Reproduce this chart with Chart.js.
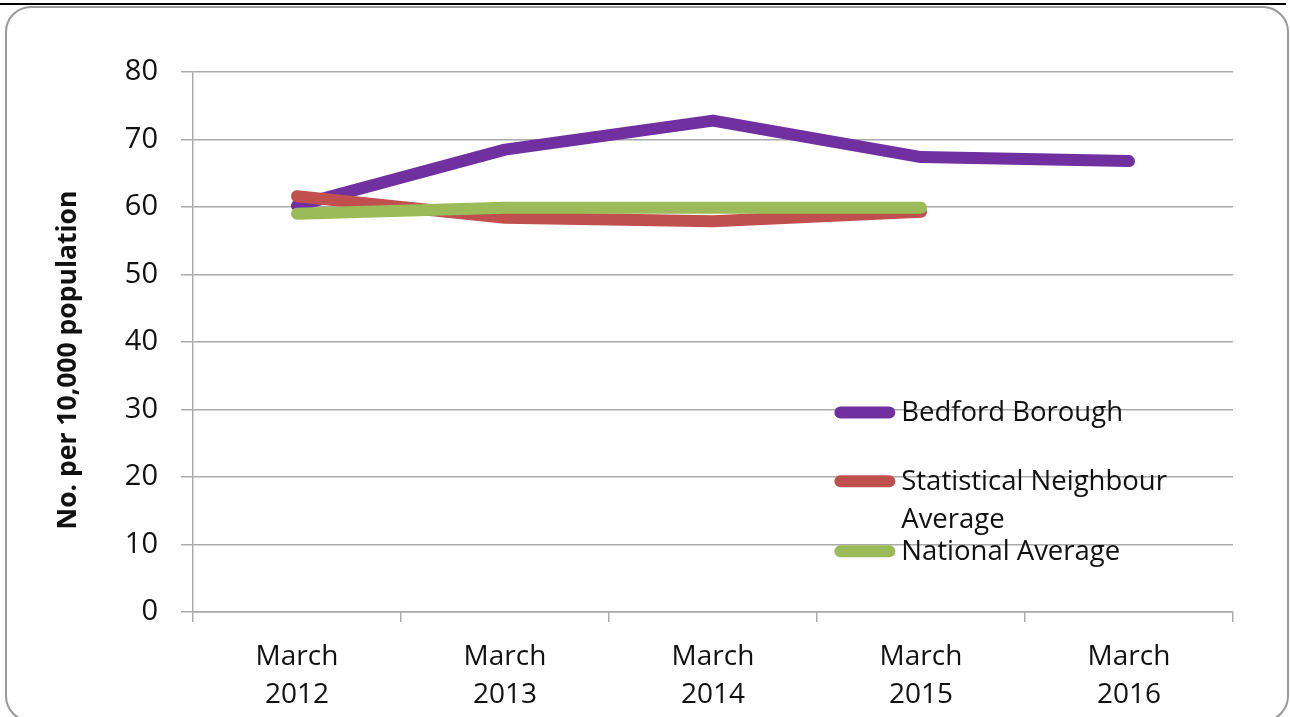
<!DOCTYPE html>
<html>
<head>
<meta charset="utf-8">
<script src="https://cdn.jsdelivr.net/npm/chart.js@4.4.1/dist/chart.umd.min.js"></script>
<style>
  html, body { margin: 0; padding: 0; background: #fff; }
  body { width: 1290px; height: 717px; position: relative; overflow: hidden; }
  .topline { position: absolute; left: 0; top: 3px; width: 1286px; height: 2px; background: #000; }
  .frame { position: absolute; left: 5px; top: 6px; width: 1280px; height: 712px;
           border: 2px solid #9a9a9a; border-radius: 26px; }
  #wrap { position: absolute; left: 0; top: 0; width: 1290px; height: 717px; }
</style>
</head>
<body>
<div class="topline"></div>
<div class="frame"></div>
<div id="wrap"><canvas id="chart" width="1290" height="717"></canvas></div>
<script>
// Rate per 10,000 population, March snapshot each year
const categories = [["March", "2012"], ["March", "2013"], ["March", "2014"], ["March", "2015"], ["March", "2016"]];
const bedfordBorough = [60.2, 68.5, 72.8, 67.4, 66.8];
const statisticalNeighbourAverage = [61.6, 58.4, 57.9, 59.3, null];
const nationalAverage = [59.0, 59.9, 59.9, 59.9, null];
const yTicks = [0, 10, 20, 30, 40, 50, 60, 70, 80];

const yAxisTitle = "No. per 10,000 population";
const seriesNames = ["Bedford Borough", ["Statistical Neighbour", "Average"], "National Average"];
const seriesColors = ["#7030A0", "#C0504D", "#9BBB59"];

const FONT = "'Open Sans', 'Noto Sans', sans-serif";
const GRID = "#aaaaaa";

// Rotated value-axis title, sitting slightly below the axis midpoint
const axisTitle = {
  id: "axisTitle",
  afterDraw(chart) {
    const { ctx, chartArea: a } = chart;
    ctx.save();
    ctx.translate(68, (a.top + a.bottom) / 2 + 18);
    ctx.rotate(-Math.PI / 2);
    ctx.font = "bold 26.5px " + FONT;
    ctx.fillStyle = "#111";
    ctx.textAlign = "center";
    ctx.textBaseline = "middle";
    ctx.fillText(yAxisTitle, 0, 0);
    ctx.restore();
  }
};

// Legend drawn inside the plot area, lower right
const insideLegend = {
  id: "insideLegend",
  afterDatasetsDraw(chart) {
    const { ctx, chartArea: a } = chart;
    const w = a.right - a.left, h = a.bottom - a.top;
    const x0 = a.left + w * 0.6225, x1 = a.left + w * 0.6695, tx = a.left + w * 0.681;
    const rows = [
      { y: a.top + h * 0.6305, lines: [seriesNames[0]] },
      { y: a.top + h * 0.758, lines: seriesNames[1] },
      { y: a.top + h * 0.8875, lines: [seriesNames[2]] }
    ];
    ctx.save();
    ctx.font = "27.5px " + FONT;
    ctx.textBaseline = "middle";
    ctx.textAlign = "left";
    rows.forEach((r, i) => {
      ctx.strokeStyle = seriesColors[i];
      ctx.lineWidth = 12;
      ctx.lineCap = "round";
      ctx.beginPath();
      ctx.moveTo(x0, r.y);
      ctx.lineTo(x1, r.y);
      ctx.stroke();
      ctx.fillStyle = "#111";
      r.lines.forEach((t, j) => ctx.fillText(t, tx, r.y + 1 + j * 38));
    });
    ctx.restore();
  }
};

function lineSet(label, data, color, order) {
  return {
    label, data, order,
    borderColor: color, backgroundColor: color,
    borderWidth: 12, borderCapStyle: "round", borderJoinStyle: "round",
    pointRadius: 0, pointHoverRadius: 0, tension: 0, spanGaps: false
  };
}

new Chart(document.getElementById("chart"), {
  type: "line",
  data: {
    labels: categories,
    datasets: [
      lineSet("Bedford Borough", bedfordBorough, seriesColors[0], 3),
      lineSet("Statistical Neighbour Average", statisticalNeighbourAverage, seriesColors[1], 2),
      lineSet("National Average", nationalAverage, seriesColors[2], 1)
    ]
  },
  options: {
    responsive: false,
    animation: false,
    layout: { padding: { top: 72, right: 57, bottom: 0, left: 0 } },
    plugins: { legend: { display: false }, tooltip: { enabled: false } },
    scales: {
      x: {
        offset: true,
        grid: { display: true, offset: true, drawOnChartArea: false, drawTicks: true,
                tickLength: 10, color: GRID, lineWidth: 1.5 },
        border: { display: true, color: GRID, width: 1.5 },
        ticks: { color: "#111", font: { family: FONT, size: 28, lineHeight: 1.36 },
                 padding: 16, maxRotation: 0, autoSkip: false },
        afterFit(scale) { scale.height = 105; }
      },
      y: {
        min: 0, max: 80,
        afterBuildTicks(scale) { scale.ticks = yTicks.map(v => ({ value: v })); },
        grid: { color: GRID, lineWidth: 1.5, drawTicks: true, tickLength: 12 },
        border: { display: true, color: GRID, width: 1.5 },
        ticks: { color: "#111", font: { family: FONT, size: 29 }, padding: 23 },
        afterFit(scale) { scale.width = 193; }
      }
    }
  },
  plugins: [insideLegend, axisTitle]
});
</script>
</body>
</html>
